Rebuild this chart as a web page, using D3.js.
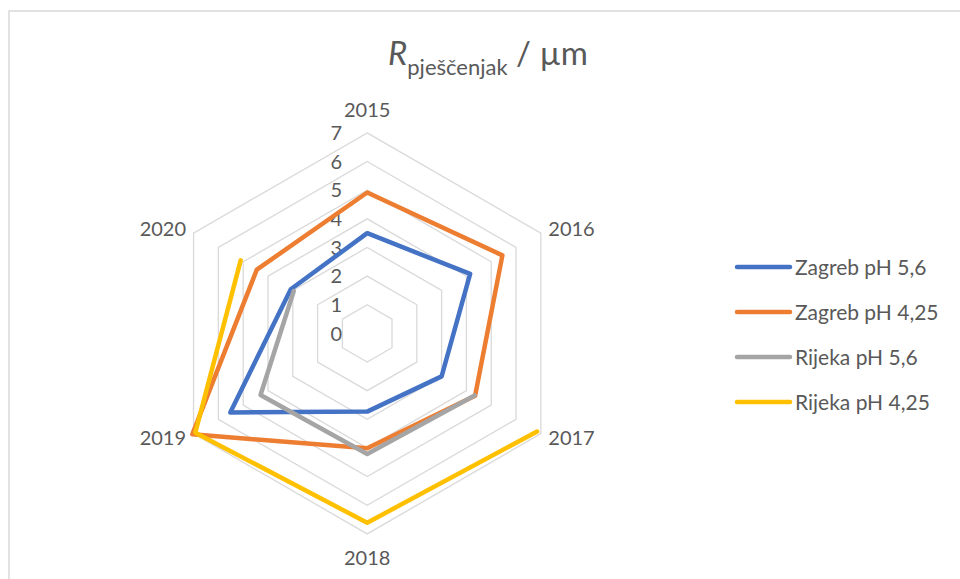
<!DOCTYPE html>
<html>
<head>
<meta charset="utf-8">
<script src="https://cdn.jsdelivr.net/npm/d3@7"></script>
<style>
  html, body { margin: 0; padding: 0; background: #fff; }
  svg { display: block; }
</style>
</head>
<body>
<svg id="chart" width="960" height="579"></svg>
<script>
const categories = ["2015", "2016", "2017", "2018", "2019", "2020"];
const seriesNames = ["Zagreb pH 5,6", "Zagreb pH 4,25", "Rijeka pH 5,6", "Rijeka pH 4,25"];
const zagreb56  = [3.5, 4.15, 3.0, 2.73, 5.52, 3.08];
const zagreb425 = [4.92, 5.45, 4.35, 4.01, 7.05, 4.45];
const rijeka56  = [null, null, 4.33, 4.21, 4.3, 2.96];
const rijeka425 = [null, null, 6.85, 6.61, 6.93, 5.1];
const seriesValues = [zagreb56, zagreb425, rijeka56, rijeka425];
const colors = ["#4472C4", "#ED7D31", "#A5A5A5", "#FFC000"];
const tickValues = [0, 1, 2, 3, 4, 5, 6, 7];

const svg = d3.select("#chart");
const font = "Lato, 'Open Sans', sans-serif";
const textColor = "#595959";

// chart border
svg.append("path")
  .attr("d", "M9,579 V11 H960")
  .attr("fill", "none")
  .attr("stroke", "#d9d9d9")
  .attr("stroke-width", 1.5);

const cx = 367.2, cy = 333.4, R = 200.5;
const r = d3.scaleLinear().domain([0, 7]).range([0, R]);
const angle = d3.scalePoint().domain(categories).range([0, 2 * Math.PI * 5 / 6]);

const g = svg.append("g").attr("transform", `translate(${cx},${cy})`);

// grid hexagons
const gridLine = d3.lineRadial()
  .angle(d => angle(d.c))
  .radius(d => r(d.v))
  .curve(d3.curveLinearClosed);
tickValues.filter(t => t > 0).forEach(t => {
  g.append("path")
    .attr("d", gridLine(categories.map(c => ({ c, v: t }))))
    .attr("fill", "none")
    .attr("stroke", "#d9d9d9")
    .attr("stroke-width", 1.3);
});

// tick labels
g.selectAll("text.tick").data(tickValues).join("text")
  .attr("class", "tick")
  .attr("x", -25)
  .attr("y", d => -r(d))
  .attr("dy", "0.36em")
  .attr("text-anchor", "end")
  .attr("font-family", font)
  .attr("font-size", 20)
  .attr("fill", textColor)
  .text(d => d);

// category labels
categories.forEach(c => {
  const a = angle(c);
  const vx = Math.sin(a) * R;
  const vy = -Math.cos(a) * R;
  let anchor = "middle", x = vx, y = vy;
  if (Math.abs(Math.sin(a)) < 0.1) {
    y = vy + (Math.cos(a) > 0 ? -23 : 24);
  } else {
    anchor = Math.sin(a) > 0 ? "start" : "end";
    x = vx + (Math.sin(a) > 0 ? 7.5 : -7.5);
    y = vy + (Math.cos(a) > 0 ? -4.5 : 4.5);
  }
  g.append("text")
    .attr("x", x)
    .attr("y", y)
    .attr("dy", "0.36em")
    .attr("text-anchor", anchor)
    .attr("font-family", font)
    .attr("font-size", 20)
    .attr("fill", textColor)
    .text(c);
});

// series lines
const seriesLine = d3.lineRadial()
  .defined(d => d.v !== null)
  .angle(d => angle(d.c))
  .radius(d => r(d.v))
  .curve(d3.curveLinear);
seriesValues.forEach((vals, i) => {
  const pts = categories.map((c, j) => ({ c, v: vals[j] }));
  const allDefined = vals.every(v => v !== null);
  let d;
  if (allDefined) {
    d = d3.lineRadial().angle(p => angle(p.c)).radius(p => r(p.v)).curve(d3.curveLinearClosed)(pts);
  } else {
    pts.push({ c: categories[0], v: vals[0] });
    d = seriesLine(pts);
  }
  g.append("path")
    .attr("d", d)
    .attr("fill", "none")
    .attr("stroke", colors[i])
    .attr("stroke-width", 4.5)
    .attr("stroke-linejoin", "round")
    .attr("stroke-linecap", "round");
});

// title
const title = svg.append("text")
  .attr("x", 488)
  .attr("y", 65)
  .attr("text-anchor", "middle")
  .attr("font-family", font)
  .attr("font-size", 33)
  .attr("fill", textColor);
title.append("tspan").attr("font-style", "italic").text("R");
title.append("tspan").attr("font-size", 22).attr("dy", 10).text("pješčenjak");
title.append("tspan").attr("dy", -10).text(" / µm");

// legend
const legend = svg.append("g");
seriesNames.forEach((name, i) => {
  const y = 267 + i * 45;
  legend.append("line")
    .attr("x1", 737).attr("x2", 790)
    .attr("y1", y).attr("y2", y)
    .attr("stroke", colors[i])
    .attr("stroke-width", 4.5)
    .attr("stroke-linecap", "round");
  legend.append("text")
    .attr("x", 795)
    .attr("y", y)
    .attr("dy", "0.36em")
    .attr("font-family", font)
    .attr("font-size", 21)
    .attr("fill", textColor)
    .text(name);
});
</script>
</body>
</html>
